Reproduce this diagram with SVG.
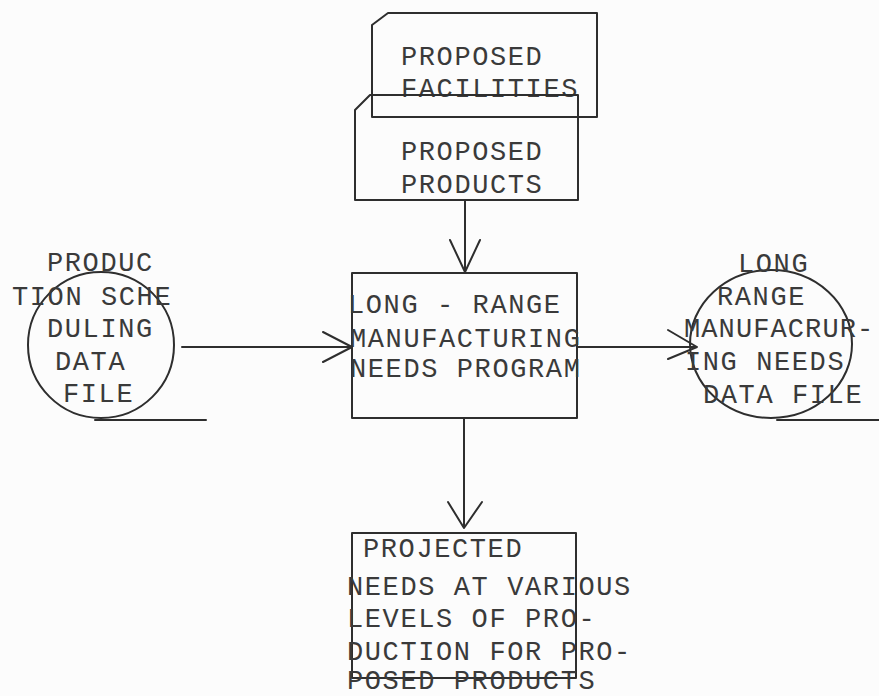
<svg xmlns="http://www.w3.org/2000/svg" width="879" height="696" viewBox="0 0 879 696">
<style>
.ln{fill:none;stroke:#2e2e2e;stroke-width:2;stroke-linecap:round;stroke-linejoin:round}
.t{font-family:"Liberation Mono","DejaVu Sans Mono",monospace;font-size:27px;letter-spacing:1.6px;fill:#3a3a3a}
</style>
<rect width="879" height="696" fill="#fcfcfc"/>
<g id="proposed-facilities">
<path class="ln" d="M372 25 L388 13 L597 13 L597 117 L372 117 Z"/>
<text class="t" x="401" y="65">PROPOSED</text>
<text class="t" x="401" y="97">FACILITIES</text>
</g>
<g id="proposed-products">
<path class="ln" d="M355 110 L370 95 L578 95 L578 200 L355 200 Z"/>
<text class="t" x="401" y="160">PROPOSED</text>
<text class="t" x="401" y="193">PRODUCTS</text>
</g>
<g id="production-scheduling">
<circle class="ln" cx="101" cy="345" r="73"/>
<line class="ln" x1="95" y1="420" x2="206" y2="420"/>
<text class="t" x="47" y="271">PRODUC</text>
<text class="t" x="12" y="305">TION SCHE</text>
<text class="t" x="47" y="337">DULING</text>
<text class="t" x="55" y="370">DATA</text>
<text class="t" x="63" y="402">FILE</text>
</g>
<g id="program">
<rect class="ln" x="352" y="273" width="225" height="145"/>
<text class="t" x="348" y="313">LONG - RANGE</text>
<text class="t" x="350" y="347">MANUFACTURING</text>
<text class="t" x="350" y="377">NEEDS PROGRAM</text>
</g>
<g id="needs-data-file">
<ellipse class="ln" cx="771" cy="344" rx="81" ry="74"/>
<line class="ln" x1="777" y1="420" x2="879" y2="420"/>
<text class="t" x="738" y="272">LONG</text>
<text class="t" x="717" y="305">RANGE</text>
<text class="t" x="684" y="337" style="letter-spacing:1.1px">MANUFACRUR-</text>
<text class="t" x="685" y="370">ING NEEDS</text>
<text class="t" x="703" y="403">DATA FILE</text>
</g>
<g id="projected-needs">
<rect class="ln" x="352" y="533" width="224" height="145"/>
<text class="t" x="363" y="557">PROJECTED</text>
<text class="t" x="347" y="595">NEEDS AT VARIOUS</text>
<text class="t" x="347" y="627">LEVELS OF PRO-</text>
<text class="t" x="347" y="660">DUCTION FOR PRO-</text>
<text class="t" x="347" y="689">POSED PRODUCTS</text>
</g>
<g id="connectors">
<path class="ln" d="M465 200 L465 272 M450 240 L465 272 L480 240"/>
<path class="ln" d="M182 347 L352 347 M323 332 L352 347 L323 362"/>
<path class="ln" d="M577 347 L697 347 M668 330 L697 347 L668 359"/>
<path class="ln" d="M464 418 L464 528 M448 502 L464 528 L482 502"/>
</g>
</svg>
